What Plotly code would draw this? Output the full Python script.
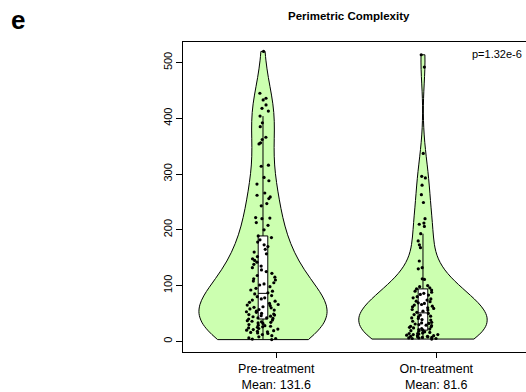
import plotly.graph_objects as go

# ---------------- data ----------------
categories = ["Pre-treatment", "On-treatment"]
mean_labels = ["Mean: 131.6", "Mean: 81.6"]
p_value_text = "p=1.32e-6"
title_text = "Perimetric Complexity"
panel_label = "e"

pre_treatment = [
    520, 445, 436, 433, 424, 418, 413, 404, 392, 385, 366, 362, 356, 354, 316, 314,
    294, 288, 282, 266, 262, 259, 256, 247, 243, 222, 221, 220, 213, 208, 200,
    189, 186, 182, 178, 173, 170, 165, 160, 157, 152, 148, 145, 142, 138, 135, 132,
    128, 125, 122, 118, 115, 112, 110, 108, 105, 103, 101,
    98, 95, 92, 90, 87, 85, 82, 80, 78, 76, 74, 72, 70, 68, 66, 65, 64, 62, 61, 60,
    58, 57, 56, 54, 53, 52, 50, 49, 48, 47, 46, 45, 44, 42, 42, 41, 40, 38, 37, 36,
    35, 34, 33, 32, 30, 29, 28, 27, 26, 25, 24, 23, 22, 21, 20, 19, 18, 17, 16, 15,
    14, 12, 10, 8, 6, 5, 4, 3,
]

on_treatment = [
    514, 492, 337, 296, 293, 280, 263, 249, 220, 212, 210, 206, 193, 180, 173, 168,
    144, 132, 130,
    112, 111, 100, 98, 96, 94, 92, 90, 88, 86, 84, 83, 80, 78, 76, 74, 72, 71, 69, 68,
    66, 65, 63, 62, 60, 59, 57, 56, 54, 52, 50, 48, 47, 45, 44, 42, 41, 39, 38, 36,
    34, 33, 32, 31, 30, 29, 28, 27, 26, 25, 24, 23, 22, 21, 20, 19, 18, 17, 16, 15,
    14, 14, 13, 12, 12, 11, 10, 10, 9, 9, 8, 8, 7, 7, 6, 6, 5, 5, 4,
]

y_ticks = [0, 100, 200, 300, 400, 500]

groups = [pre_treatment, on_treatment]

# ---------------- styles ----------------
VIOLIN_FILL = "#CCFFB0"
FONT = "Liberation Sans, Arial, Helvetica, sans-serif"
TICK_SHIFT = 0.083
BANDWIDTHS = [48, 40]

fig = go.Figure()

for i, vals in enumerate(groups):
    xpos = i + 1
    xs = [xpos] * len(vals)
    fig.add_trace(go.Violin(
        x=xs, y=vals, width=0.8, spanmode="hard", points=False,
        bandwidth=BANDWIDTHS[i],
        fillcolor=VIOLIN_FILL, line=dict(color="black", width=1),
        box=dict(visible=False), meanline=dict(visible=False),
        hoverinfo="skip", showlegend=False, opacity=1,
    ))
    fig.add_trace(go.Box(
        x=xs, y=vals, width=0.06, boxpoints="outliers",
        marker=dict(opacity=0, size=1), fillcolor="white",
        line=dict(color="black", width=1), whiskerwidth=0,
        hoverinfo="skip", showlegend=False,
    ))
    fig.add_trace(go.Box(
        x=xs, y=vals, width=0.21, boxpoints="all", jitter=1, pointpos=0,
        marker=dict(color="black", size=3.2),
        fillcolor="rgba(0,0,0,0)", line=dict(color="rgba(0,0,0,0)", width=0),
        whiskerwidth=0, hoverinfo="skip", showlegend=False,
    ))

fig.update_layout(
    width=526, height=392,
    margin=dict(l=183, r=0, t=42, b=40),
    paper_bgcolor="white", plot_bgcolor="white",
    boxmode="overlay", violinmode="overlay",
    font=dict(family=FONT, color="black"),
    xaxis=dict(
        range=[0.5, 2.644], showgrid=False, zeroline=False,
        showline=True, mirror=True, linecolor="black", linewidth=1,
        ticks="outside", ticklen=5, tickcolor="black",
        tickvals=[i + 1 + TICK_SHIFT for i in range(len(categories))],
        ticktext=[f"{c}<br>{m}" for c, m in zip(categories, mean_labels)],
        tickfont=dict(size=12.5, family=FONT, color="black"),
    ),
    yaxis=dict(
        range=[-19.2, 536.9], showgrid=False, zeroline=False,
        showline=True, mirror=False, linecolor="black", linewidth=1,
        ticks="outside", ticklen=6, tickcolor="black",
        tickvals=y_ticks, ticktext=[str(v) for v in y_ticks],
        tickangle=-90, tickfont=dict(size=11, family=FONT, color="black"),
    ),
    annotations=[
        dict(text=f"<b>{title_text}</b>", xref="paper", yref="paper",
             x=(349 - 183) / 343, y=1 + 26 / 310, xanchor="center", yanchor="middle",
             showarrow=False, font=dict(size=11.5, family=FONT, color="black")),
        dict(text=f"<b>{panel_label}</b>", xref="paper", yref="paper",
             x=-(183 - 9) / 343, y=1 + 22 / 310, xanchor="left", yanchor="middle",
             showarrow=False, font=dict(size=26, family=FONT, color="black")),
        dict(text=p_value_text, xref="paper", yref="paper",
             x=(524 - 183) / 343, y=1 - 12 / 310, xanchor="right", yanchor="middle",
             showarrow=False, font=dict(size=11, family=FONT, color="black")),
    ],
)

fig.write_html("out.html")
